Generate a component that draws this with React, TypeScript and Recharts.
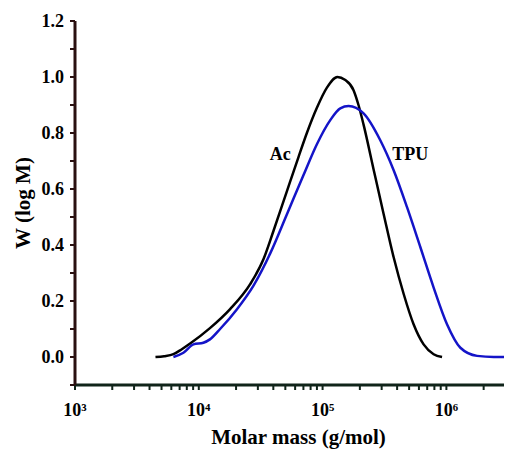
import React from 'react';
import { LineChart, Line, XAxis, YAxis, LabelList } from 'recharts';

// log10(M) and W(log M)
const acLogM = [3.65, 3.72, 3.795, 3.86, 3.93, 4.09, 4.253, 4.415, 4.523, 4.603, 4.71, 4.806, 4.873, 4.954, 5.035, 5.12, 5.18, 5.25, 5.29, 5.331, 5.412, 5.493, 5.574, 5.655, 5.735, 5.816, 5.897, 5.965];
const acW = [0.0, 0.003, 0.01, 0.027, 0.048, 0.103, 0.171, 0.26, 0.35, 0.45, 0.59, 0.715, 0.8, 0.89, 0.962, 1.0, 0.99, 0.953, 0.9, 0.83, 0.67, 0.511, 0.356, 0.225, 0.117, 0.045, 0.01, 0.0];

const tpuLogM = [3.795, 3.876, 3.957, 4.037, 4.09, 4.172, 4.307, 4.442, 4.577, 4.712, 4.846, 4.954, 5.062, 5.143, 5.21, 5.331, 5.466, 5.574, 5.682, 5.79, 5.897, 6.005, 6.113, 6.248, 6.383, 6.53];
const tpuW = [0.0, 0.015, 0.045, 0.051, 0.063, 0.1, 0.17, 0.255, 0.37, 0.51, 0.65, 0.76, 0.846, 0.888, 0.896, 0.87, 0.774, 0.667, 0.535, 0.392, 0.248, 0.117, 0.033, 0.004, 0.0, 0.0];

// curve labels
const noteText = ['Ac', 'TPU'];
const noteLogM = [4.658, 5.709];
const noteW = [0.728, 0.728];

const decades = [3, 4, 5, 6];
const minorMult = [2, 3, 4, 5, 6, 7, 8, 9];
const yTicks = [-0.1, 0, 0.1, 0.2, 0.3, 0.4, 0.5, 0.6, 0.7, 0.8, 0.9, 1.0, 1.1, 1.2];
const SUP: Record<number, string> = { 3: '³', 4: '⁴', 5: '⁵', 6: '⁶' };

const FONT = '"Liberation Serif", "Times New Roman", serif';
const BLUE = '#1414c8';
// slightly tinted near-black for the frame
const FRAME_L = '#2a1010';
const FRAME_B = '#10241a';
const FRAME_T = '#141a30';

const acData = acLogM.map((x, i) => ({ x, w: acW[i] }));
const tpuData = tpuLogM.map((x, i) => ({ x, w: tpuW[i] }));
const noteData = noteText.map((name, i) => [{ x: noteLogM[i], w: noteW[i], name }]);

const xTicks: number[] = [];
decades.forEach((d) => {
  xTicks.push(d);
  minorMult.forEach((m) => {
    const v = d + Math.log10(m);
    if (v < 6.53) xTicks.push(v);
  });
});

const tickFont = { fontFamily: FONT, fontWeight: 'bold', fontSize: 18, fill: '#000' };

const fmtX = (v: number) => (Math.abs(v - Math.round(v)) < 1e-6 ? `10${SUP[Math.round(v)]}` : '');
const fmtY = (v: number) => (Math.round(v * 10) % 2 === 0 ? v.toFixed(1) : '');

export default function App() {
  return (
    <div style={{ width: 504, height: 442 }}>
      <LineChart width={504} height={442} margin={{ top: 13, right: 0, bottom: 0, left: 0 }}>
        <XAxis
          xAxisId="top"
          orientation="top"
          type="number"
          dataKey="x"
          domain={[3, 6.53]}
          allowDataOverflow
          ticks={[3]}
          tick={false}
          tickLine={false}
          height={0}
          axisLine={{ stroke: FRAME_T, strokeWidth: 3 }}
        />
        <XAxis
          type="number"
          dataKey="x"
          domain={[3, 6.53]}
          allowDataOverflow
          ticks={xTicks}
          interval={0}
          tickFormatter={fmtX}
          tick={tickFont}
          tickLine={{ stroke: FRAME_B, strokeWidth: 2 }}
          tickSize={5}
          tickMargin={13}
          height={65}
          axisLine={{ stroke: FRAME_B, strokeWidth: 3 }}
          label={{ value: 'Molar mass (g/mol)', position: 'insideBottom', offset: 6, dx: 5, fontFamily: FONT, fontWeight: 'bold', fontSize: 21, fill: '#000' }}
        />
        <YAxis
          type="number"
          domain={[-0.1, 1.2]}
          ticks={yTicks}
          interval={0}
          tickFormatter={fmtY}
          tick={tickFont}
          tickLine={{ stroke: FRAME_L, strokeWidth: 2 }}
          tickSize={5}
          tickMargin={6}
          width={67}
          axisLine={{ stroke: FRAME_L, strokeWidth: 3 }}
          label={{ value: 'W (log M)', angle: -90, position: 'insideLeft', offset: 15, fontFamily: FONT, fontWeight: 'bold', fontSize: 21, fill: '#000', style: { textAnchor: 'middle' } }}
        />
        <Line data={acData} dataKey="w" type="monotone" stroke="#000" strokeWidth={2.5} dot={false} isAnimationActive={false} />
        <Line data={tpuData} dataKey="w" type="monotone" stroke={BLUE} strokeWidth={2.5} dot={false} isAnimationActive={false} />
        {noteData.map((d, i) => (
          <Line key={noteText[i]} data={d} dataKey="w" stroke="none" dot={false} isAnimationActive={false}>
            <LabelList dataKey="name" position="center" fontFamily={FONT} fontWeight="bold" fontSize={18} fill="#000" />
          </Line>
        ))}
      </LineChart>
    </div>
  );
}
